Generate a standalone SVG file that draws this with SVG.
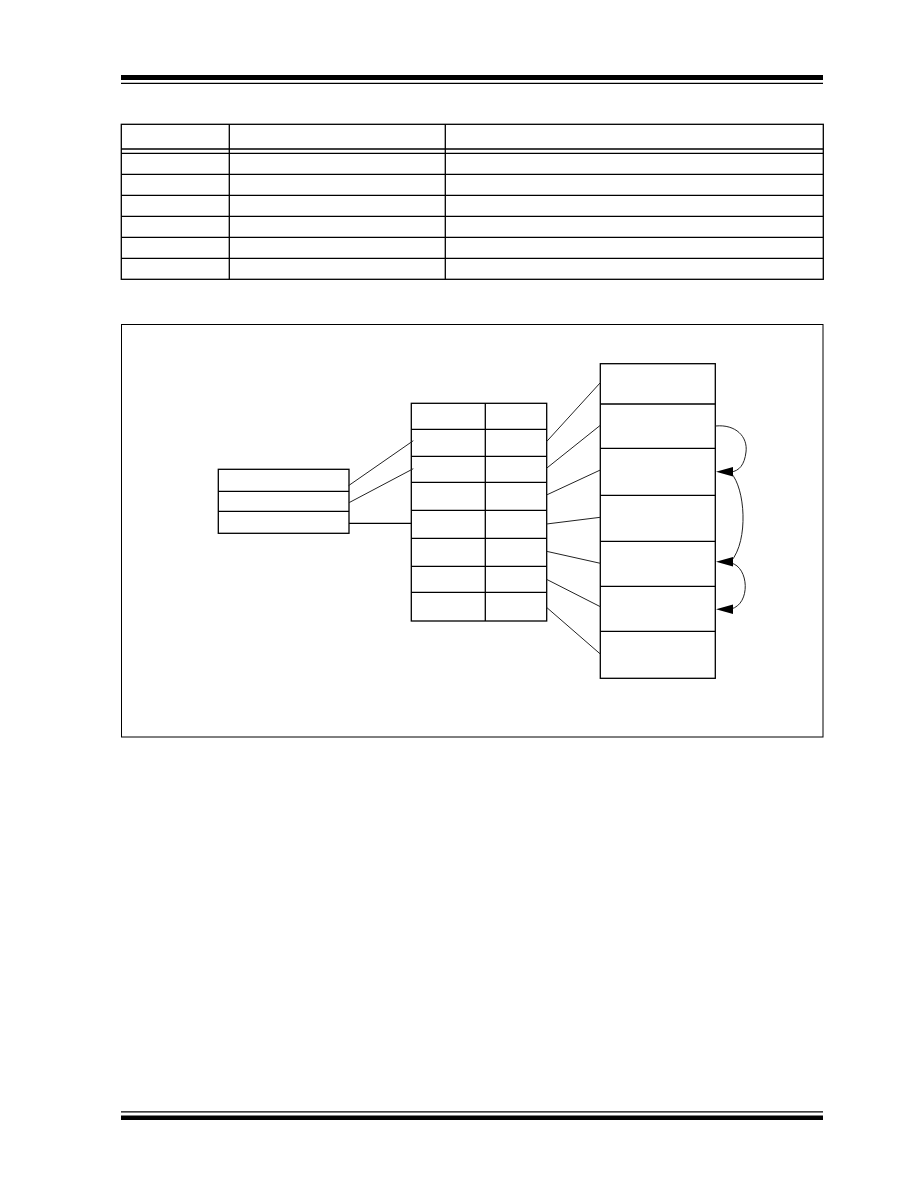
<svg xmlns="http://www.w3.org/2000/svg" width="918" height="1188" viewBox="0 0 918 1188">
<style>
.box{fill:none;stroke:#000;stroke-width:1.3}
.ln{fill:none;stroke:#000;stroke-width:1.3}
.cn{fill:none;stroke:#222;stroke-width:1}
.ah{fill:#000;stroke:none}
</style>
<rect width="918" height="1188" fill="#fff"/>
<g id="page-rules">
<rect x="121" y="75" width="702" height="5" fill="#000"/>
<line x1="121" y1="83.3" x2="823" y2="83.3" stroke="#000" stroke-width="1.3"/>
<line x1="121" y1="1111.8" x2="823" y2="1111.8" stroke="#000" stroke-width="1.3"/>
<rect x="121" y="1115.5" width="702" height="4.5" fill="#000"/>
</g>
<g id="table">
<rect class="box" x="121.3" y="124.3" width="702" height="155"/>
<line class="ln" x1="229.3" y1="124.3" x2="229.3" y2="279.3"/>
<line class="ln" x1="445.3" y1="124.3" x2="445.3" y2="279.3"/>
<line class="ln" x1="121.3" y1="149" x2="823.3" y2="149"/>
<line class="ln" x1="121.3" y1="153.3" x2="823.3" y2="153.3"/>
<line class="ln" x1="121.3" y1="174.3" x2="823.3" y2="174.3"/>
<line class="ln" x1="121.3" y1="195.3" x2="823.3" y2="195.3"/>
<line class="ln" x1="121.3" y1="216.3" x2="823.3" y2="216.3"/>
<line class="ln" x1="121.3" y1="237.3" x2="823.3" y2="237.3"/>
<line class="ln" x1="121.3" y1="258.3" x2="823.3" y2="258.3"/>
</g>
<g id="figure-frame">
<rect x="121.5" y="324.5" width="701.5" height="412.5" fill="none" stroke="#000" stroke-width="1"/>
</g>
<g id="left-node">
<rect class="box" x="218.3" y="469.3" width="130.7" height="64"/>
<line class="ln" x1="218.3" y1="491.3" x2="349" y2="491.3"/>
<line class="ln" x1="218.3" y1="511.3" x2="349" y2="511.3"/>
</g>
<g id="middle-node">
<rect class="box" x="411.3" y="403.3" width="135.4" height="217.7"/>
<line class="ln" x1="485.3" y1="403.3" x2="485.3" y2="621"/>
<line class="ln" x1="411.3" y1="429.3" x2="546.7" y2="429.3"/>
<line class="ln" x1="411.3" y1="456.3" x2="546.7" y2="456.3"/>
<line class="ln" x1="411.3" y1="482.3" x2="546.7" y2="482.3"/>
<line class="ln" x1="411.3" y1="510.3" x2="546.7" y2="510.3"/>
<line class="ln" x1="411.3" y1="538.3" x2="546.7" y2="538.3"/>
<line class="ln" x1="411.3" y1="566.3" x2="546.7" y2="566.3"/>
<line class="ln" x1="411.3" y1="592.3" x2="546.7" y2="592.3"/>
</g>
<g id="right-node">
<rect class="box" x="600.3" y="363.7" width="115" height="314.6"/>
<line class="ln" x1="600.3" y1="404" x2="715.3" y2="404"/>
<line class="ln" x1="600.3" y1="448.3" x2="715.3" y2="448.3"/>
<line class="ln" x1="600.3" y1="495.3" x2="715.3" y2="495.3"/>
<line class="ln" x1="600.3" y1="541.3" x2="715.3" y2="541.3"/>
<line class="ln" x1="600.3" y1="586.3" x2="715.3" y2="586.3"/>
<line class="ln" x1="600.3" y1="631.3" x2="715.3" y2="631.3"/>
</g>
<g id="connectors">
<line class="cn" x1="348.5" y1="485.7" x2="413.3" y2="440.7"/>
<line class="cn" x1="349" y1="502.7" x2="413.3" y2="468.7"/>
<line class="ln" x1="349" y1="523.3" x2="411.3" y2="523.3"/>
<line class="cn" x1="546.5" y1="441.7" x2="600.3" y2="382.7"/>
<line class="cn" x1="546.5" y1="468.3" x2="600.3" y2="425.3"/>
<line class="cn" x1="546.5" y1="495" x2="600.3" y2="470"/>
<line class="cn" x1="546.5" y1="524" x2="600.3" y2="517.3"/>
<line class="cn" x1="546.5" y1="551.3" x2="600.3" y2="563.3"/>
<line class="cn" x1="546.5" y1="579.3" x2="600.3" y2="606.7"/>
<line class="cn" x1="546.5" y1="607.3" x2="600.3" y2="654"/>
<path class="cn" d="M715.5,426 C736,424 748,437 746,452 C744.5,465 739,471 731,472"/>
<path class="cn" d="M731,473 C745,488 749,540 731,561.5"/>
<path class="cn" d="M731,563 C749,567 751,604 731,609"/>
<polygon class="ah" points="716,471.7 733,467 733,476.5"/>
<polygon class="ah" points="716,561.7 733,557 733,566.5"/>
<polygon class="ah" points="716,609.3 733,604.5 733,614"/>
</g>
</svg>
